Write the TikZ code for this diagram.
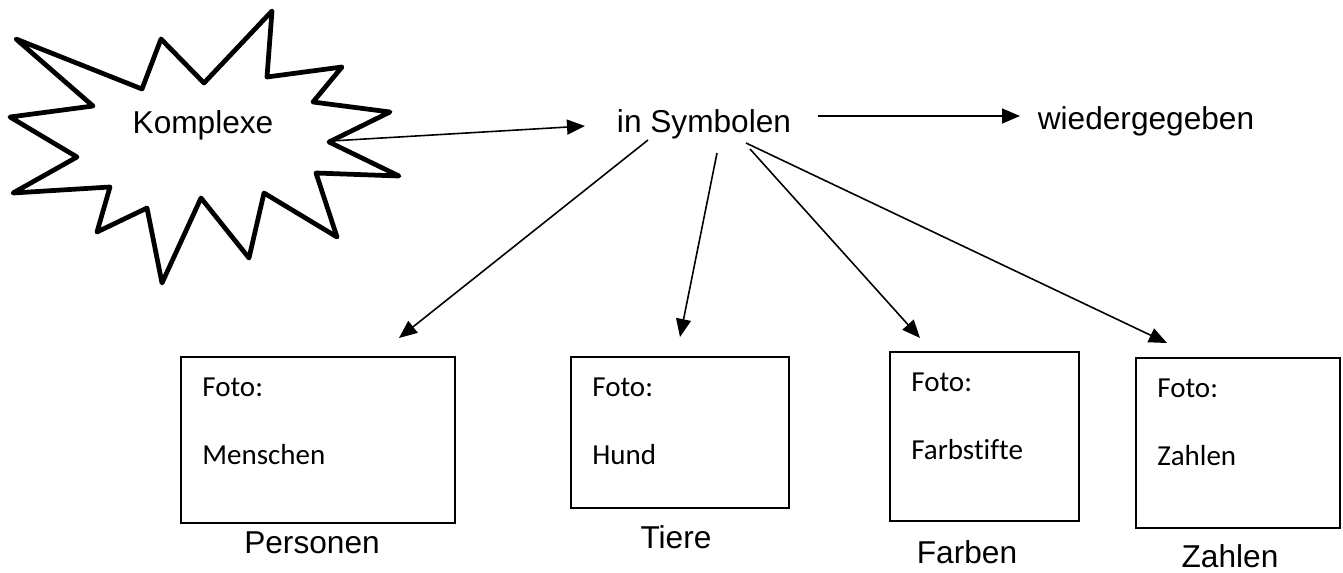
\documentclass[tikz,border=0pt]{standalone}
\usepackage{fontspec}
\setmainfont{Liberation Sans}
\newfontfamily\calibri[Ligatures=NoCommon]{Carlito}
\usetikzlibrary{positioning,fit,calc,arrows.meta}

\begin{document}
\begin{tikzpicture}[x=0.02cm,y=-0.02cm,
    lab/.style={font=\fontsize{18}{21}\selectfont,anchor=base,inner sep=0},
    fototxt/.style={font=\calibri\fontsize{16.5}{19}\selectfont,anchor=base west,inner sep=0},
    fotobox/.style={draw,line width=0.7pt,inner sep=0},
    pfeil/.style={-{Triangle[length=0.36cm,width=0.3cm]},line width=0.9pt}]
            \useasboundingbox (0,0) rectangle (1343,572);
            % Stern
            \draw[line width=2.7pt,line join=round] (16,39) -- (142,89) -- (161,39) -- (204,83)
                -- (272,11) -- (267,77) -- (342,67) -- (313,102) -- (390,112) -- (329,142)
                -- (399,176) -- (316,173) -- (337,237) -- (264,193) -- (249,258) -- (201,198)
                -- (162,283) -- (147,208) -- (97,232) -- (110,187) -- (13,193) -- (77,157)
                -- (10,117) -- (93,106) -- cycle;
            \coordinate (sternspitze) at (331,141);
            \node[lab] (kompl) at (203,133) {Komplexe};
            \node[lab] (sym) at (704,132) {in Symbolen};
            \node[lab] (wieder) at (1146,129) {wiedergegeben};
            % Bilder
            \foreach \nm/\xa/\ya/\xb/\yb/\bild/\lab/\lx/\ly in {
                pers/181/357/455/523/Menschen/Personen/312/553,
                tier/571/357/789/508/Hund/Tiere/676/548,
                farb/890/352/1079/521/Farbstifte/Farben/967/563,
                zahl/1136/358/1340/528/Zahlen/Zahlen/1230/567} {
                \node[fotobox,fit={(\xa,\ya) (\xb,\yb)}] (\nm) {};
                \node[fototxt] (\nm-a) at (\xa+21,\ya+39) {Foto:};
                \node[fototxt] (\nm-b) at (\xa+21,\ya+107) {\bild};
                \node[lab] (\nm-lab) at (\lx,\ly) {\lab};
            }
            % Pfeile
            \coordinate (s1) at (648,140);
            \coordinate (s2) at (717,153);
            \coordinate (s3) at (750,149);
            \coordinate (s4) at (746,143);
            \coordinate (t1) at (399,338);
            \coordinate (t2) at (680,337);
            \coordinate (t3) at (920,338);
            \coordinate (t4) at (1167,343);
            \draw[pfeil] (sternspitze) -- (585,126);
            \draw[pfeil] (818,116) -- (1020,116);
            \draw[pfeil] (s1) -- (t1);
            \draw[pfeil] (s2) -- (t2);
            \draw[pfeil] (s3) -- (t3);
            \draw[pfeil] (s4) -- (t4);
        \end{tikzpicture}
\end{document}
